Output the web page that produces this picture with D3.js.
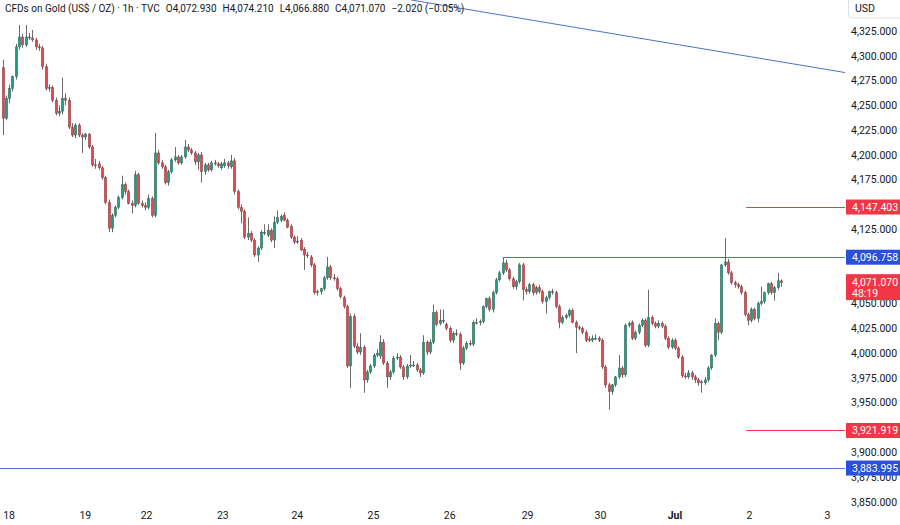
<!DOCTYPE html>
<html>
<head>
<meta charset="utf-8">
<script src="https://cdn.jsdelivr.net/npm/d3@7"></script>
<style>
  html, body { margin: 0; padding: 0; background: #fff; }
  svg { display: block; font-family: Roboto, "Liberation Sans", sans-serif; }
</style>
</head>
<body>
<div id="chart"></div>
<script>
// hourly candles, [open, high, low, close]
const ohlc = [
  [4288,4296,4220,4237],[4237,4260,4235,4257],[4257,4271,4252,4267],[4267,4280,4264,4279],
  [4279,4312,4276,4309],[4309,4331,4306,4319],[4319,4322,4308,4311],[4311,4331,4309,4319],
  [4319,4323,4316,4318],[4318,4326,4314,4316],[4316,4318,4306,4309],[4309,4312,4305,4308],
  [4308,4310,4286,4289],[4289,4292,4265,4267],[4267,4271,4264,4268],[4268,4270,4253,4255],
  [4255,4258,4240,4242],[4242,4250,4239,4244],[4244,4278,4241,4257],[4257,4262,4250,4255],
  [4255,4258,4226,4228],[4228,4232,4218,4220],[4220,4232,4217,4230],[4230,4232,4218,4220],
  [4220,4222,4202,4218],[4218,4222,4215,4221],[4221,4222,4206,4208],[4208,4210,4188,4190],
  [4190,4196,4186,4189],[4191,4194,4185,4187],[4187,4189,4175,4177],[4177,4179,4150,4152],
  [4152,4155,4122,4126],[4126,4141,4122,4139],[4139,4149,4137,4147],[4147,4159,4145,4157],
  [4157,4179,4155,4170],[4170,4172,4160,4163],[4163,4165,4150,4151],[4151,4154,4141,4149],
  [4149,4184,4147,4180],[4180,4182,4150,4151],[4151,4154,4147,4149],[4149,4152,4144,4147],
  [4147,4160,4145,4156],[4156,4158,4137,4139],[4139,4222,4137,4202],[4202,4205,4190,4192],
  [4192,4195,4186,4188],[4188,4190,4170,4172],[4172,4185,4169,4183],[4183,4197,4181,4195],
  [4195,4208,4193,4198],[4198,4200,4190,4192],[4192,4200,4190,4198],[4198,4215,4196,4208],
  [4208,4211,4203,4205],[4205,4207,4200,4202],[4202,4204,4190,4193],[4193,4202,4185,4200],
  [4200,4203,4172,4183],[4183,4192,4180,4190],[4190,4192,4183,4185],[4185,4194,4183,4192],
  [4192,4195,4189,4191],[4191,4193,4187,4189],[4187,4193,4185,4191],[4189,4196,4187,4192],
  [4192,4194,4186,4189],[4188,4200,4186,4194],[4194,4197,4160,4163],[4163,4165,4145,4147],
  [4147,4150,4131,4143],[4143,4145,4115,4117],[4117,4137,4114,4121],[4121,4123,4112,4114],
  [4114,4116,4097,4099],[4099,4108,4092,4106],[4106,4124,4104,4122],[4122,4130,4119,4121],
  [4119,4130,4117,4124],[4124,4126,4112,4114],[4114,4138,4106,4132],[4132,4144,4130,4137],
  [4134,4140,4132,4138],[4139,4142,4133,4134],[4134,4136,4126,4127],[4128,4130,4115,4117],
  [4117,4119,4110,4112],[4113,4118,4110,4113],[4114,4116,4103,4104],[4105,4107,4084,4099],
  [4099,4102,4096,4098],[4097,4099,4087,4089],[4089,4091,4059,4061],[4061,4064,4058,4062],
  [4062,4066,4059,4065],[4065,4078,4063,4076],[4076,4097,4074,4087],[4087,4089,4074,4076],
  [4076,4080,4073,4075],[4075,4077,4063,4065],[4065,4067,4055,4057],[4056,4058,4045,4047],
  [4047,4049,3985,3987],[3987,4040,3965,4037],[4037,4040,4005,4007],[4007,4010,3999,4001],
  [4001,4020,3998,4006],[4006,4008,3960,3973],[3973,3983,3970,3981],[3981,3989,3979,3987],
  [3987,4000,3985,3998],[3998,4004,3996,4000],[3997,4018,3994,4011],[4011,4014,3988,3990],
  [3990,3992,3965,3976],[3976,3983,3973,3981],[3981,3997,3979,3995],[3995,4000,3993,3996],
  [3996,3998,3984,3986],[3986,3988,3973,3976],[3976,3989,3974,3987],[3987,3998,3985,3988],
  [3988,3992,3986,3988],[3988,3990,3981,3983],[3983,3985,3976,3980],[3980,4018,3978,4011],
  [4011,4013,3998,4001],[4001,4014,3999,4011],[4011,4049,4009,4041],[4041,4043,4027,4029],
  [4030,4044,4028,4033],[4033,4044,4030,4032],[4029,4031,4023,4025],[4025,4027,4011,4013],
  [4013,4022,4010,4020],[4020,4024,4017,4019],[4019,4021,3983,3990],[3990,4007,3988,4005],
  [4005,4012,4003,4010],[4010,4013,4007,4009],[4009,4033,4007,4031],[4031,4035,4029,4031],
  [4031,4034,4028,4032],[4032,4048,4030,4047],[4047,4056,4045,4055],[4055,4057,4042,4044],
  [4044,4063,4041,4061],[4061,4076,4059,4074],[4074,4083,4072,4081],[4081,4097,4079,4091],
  [4091,4094,4082,4084],[4084,4086,4073,4075],[4075,4077,4065,4067],[4067,4074,4064,4072],
  [4072,4091,4070,4089],[4089,4091,4053,4064],[4064,4067,4059,4062],[4062,4071,4060,4069],
  [4069,4071,4058,4061],[4061,4068,4059,4066],[4066,4069,4060,4062],[4062,4064,4050,4052],
  [4052,4058,4040,4056],[4056,4063,4054,4062],[4062,4065,4059,4061],[4061,4063,4045,4047],
  [4047,4049,4025,4031],[4031,4038,4029,4036],[4036,4040,4034,4038],[4038,4045,4036,4043],
  [4043,4045,4030,4031],[4031,4033,4000,4026],[4026,4028,4023,4025],[4025,4027,4019,4021],
  [4021,4023,4011,4013],[4013,4017,4011,4014],[4013,4018,4011,4015],[4015,4019,4013,4015],
  [4015,4017,4011,4013],[4013,4015,3984,3986],[3986,3988,3965,3968],[3968,3970,3943,3961],
  [3961,3969,3958,3968],[3968,3977,3966,3976],[3976,3998,3974,3985],[3985,3987,3975,3978],
  [3978,4030,3976,4028],[4028,4032,4026,4030],[4031,4033,4013,4015],[4015,4023,4013,4021],
  [4021,4030,4019,4028],[4028,4035,4026,4033],[4033,4035,4006,4008],[4008,4064,4006,4036],
  [4036,4038,4028,4030],[4030,4032,4025,4027],[4027,4033,4025,4030],[4030,4032,4025,4027],
  [4027,4029,4013,4015],[4015,4017,4004,4006],[4006,4015,4004,4013],[4013,4015,4003,4005],
  [4005,4007,3994,3996],[3996,3998,3975,3977],[3977,3980,3974,3976],[3976,3983,3974,3980],
  [3980,3982,3973,3976],[3976,3978,3970,3973],[3973,3975,3967,3970],[3970,3973,3960,3971],
  [3970,3976,3968,3973],[3973,3987,3971,3985],[3985,3999,3983,3998],[3998,4035,3996,4030],
  [4030,4032,4013,4021],[4021,4090,4019,4089],[4089,4116,4087,4092],[4092,4095,4079,4081],
  [4081,4083,4069,4071],[4071,4073,4066,4069],[4069,4071,4065,4067],[4067,4069,4059,4061],
  [4061,4063,4037,4039],[4039,4041,4028,4033],[4033,4046,4031,4044],[4044,4046,4033,4035],
  [4035,4052,4031,4050],[4050,4067,4048,4052],[4052,4062,4050,4061],[4061,4071,4059,4070],
  [4070,4072,4059,4061],[4061,4068,4053,4066],[4066,4081,4064,4073],[4072.93,4074.21,4066.88,4071.07]
];

// time axis: label and the bar index it sits on
const dayLabels = ["18", "19", "22", "23", "24", "25", "26", "29", "30", "Jul", "2", "3"];
const dayIdx = [2, 25, 43.5, 66.5, 89, 112, 135, 158.5, 180.5, 203, 225.5, 249];

// price axis
const priceTicks = d3.range(3850, 4326, 25);
const priceView = [3844.7, 4356.3];

// drawn horizontal levels
const levelPrices = [4147.403, 4096.758, 3921.919, 3883.995];
const levelStart = [224.5, 151, 224.5, -2];
const levelKind = ["target", "zone", "target", "zone"];

// falling trend line (bar index, price)
const trendIdx = [123.4, 254.5];
const trendPrice = [4356.3, 4283];

const lastPrice = 4071.07;
const countdown = "48:19";
const title = "CFDs on Gold (US$ / OZ) · 1h · TVC";
const legend = ["O4,072.930", "H4,074.210", "L4,066.880", "C4,071.070", "−2.020 (−0.05%)"];

const W = 900, H = 525;
const plotRight = 845, plotBottom = 507;
const UP = "#1f9e80", DOWN = "#e8464f";
const RED = "#f23645", BLUE = "#2a4fd8", LINEBLUE = "#4d72cf";
const TXT = "#131722";

const svg = d3.select("#chart").append("svg").attr("width", W).attr("height", H);

const x = d3.scaleLinear().domain([0, ohlc.length - 1]).range([2.5, 781]);
const y = d3.scaleLinear().domain(priceView).range([plotBottom, 0]);
const fmt = d3.format(",.3f");

const plot = svg.append("g");
plot.append("clipPath").attr("id", "clip")
  .append("rect").attr("width", plotRight).attr("height", plotBottom);
const inner = plot.append("g").attr("clip-path", "url(#clip)");

// levels
const xEnd = x.invert(plotRight);
levelPrices.forEach((p, i) => {
  inner.append("line")
    .attr("x1", x(levelStart[i])).attr("x2", x(xEnd))
    .attr("y1", Math.round(y(p)) + 0.5).attr("y2", Math.round(y(p)) + 0.5)
    .attr("stroke", levelKind[i] === "target" ? RED : LINEBLUE)
    .attr("stroke-width", 1);
});

// trend line
inner.append("line")
  .attr("x1", x(trendIdx[0])).attr("y1", y(trendPrice[0]))
  .attr("x2", x(trendIdx[1])).attr("y2", y(trendPrice[1]))
  .attr("stroke", LINEBLUE).attr("stroke-width", 1);

// candles
const bw = 2.4;
const c = inner.selectAll("g.c").data(ohlc).enter().append("g");
c.append("line")
  .attr("x1", (d, i) => Math.round(x(i)) + 0.5).attr("x2", (d, i) => Math.round(x(i)) + 0.5)
  .attr("y1", d => y(d[1])).attr("y2", d => y(d[2]))
  .attr("stroke", "#6b6b6b").attr("stroke-width", 1);
c.append("rect")
  .attr("x", (d, i) => Math.round(x(i)) + 0.5 - bw / 2)
  .attr("width", bw)
  .attr("y", d => y(Math.max(d[0], d[3])))
  .attr("height", d => Math.max(1, Math.abs(y(d[0]) - y(d[3]))))
  .attr("fill", d => d[3] >= d[0] ? UP : DOWN)
  .attr("stroke", "rgba(30,30,30,0.55)").attr("stroke-width", 0.5);

// header legend
const hdr = svg.append("text").attr("x", 5).attr("y", 12)
  .attr("font-size", 10).attr("fill", TXT);
hdr.append("tspan").text(title);
legend.forEach(t => hdr.append("tspan").attr("dx", 6).text(t));

// price axis
const ax = svg.append("g");
ax.selectAll("text").data(priceTicks).enter().append("text")
  .attr("x", 851).attr("y", d => y(d) + 3.8)
  .attr("font-size", 10.5).attr("fill", TXT)
  .text(d => fmt(d));

// USD box
ax.append("rect").attr("x", 848.5).attr("y", -4).attr("width", 60).attr("height", 22)
  .attr("rx", 4).attr("fill", "#fff").attr("stroke", "#e0e3eb");
ax.append("text").attr("x", 855).attr("y", 12).attr("font-size", 10.5).attr("fill", TXT).text("USD");

// level badges
levelPrices.forEach((p, i) => {
  const yy = y(p);
  ax.append("rect").attr("x", 846).attr("y", yy - 7.5).attr("width", 54).attr("height", 15)
    .attr("fill", levelKind[i] === "target" ? RED : BLUE);
  ax.append("text").attr("x", 852).attr("y", yy + 3.8)
    .attr("font-size", 10.5).attr("fill", "#fff").text(fmt(p));
});

// last price badge
const ly = y(lastPrice);
ax.append("rect").attr("x", 846).attr("y", ly - 8.5).attr("width", 54).attr("height", 26).attr("fill", RED);
ax.append("text").attr("x", 852).attr("y", ly + 3.8).attr("font-size", 10.5).attr("fill", "#fff").text(fmt(lastPrice));
ax.append("text").attr("x", 852).attr("y", ly + 14).attr("font-size", 10.5).attr("fill", "#fff").text(countdown);

// time axis
svg.append("g").selectAll("text").data(dayLabels).enter().append("text")
  .attr("x", (d, i) => x(dayIdx[i])).attr("y", 519)
  .attr("text-anchor", "middle").attr("font-size", 10.5).attr("fill", TXT)
  .attr("font-weight", d => d === "Jul" ? "bold" : null)
  .text(d => d);
</script>
</body>
</html>
